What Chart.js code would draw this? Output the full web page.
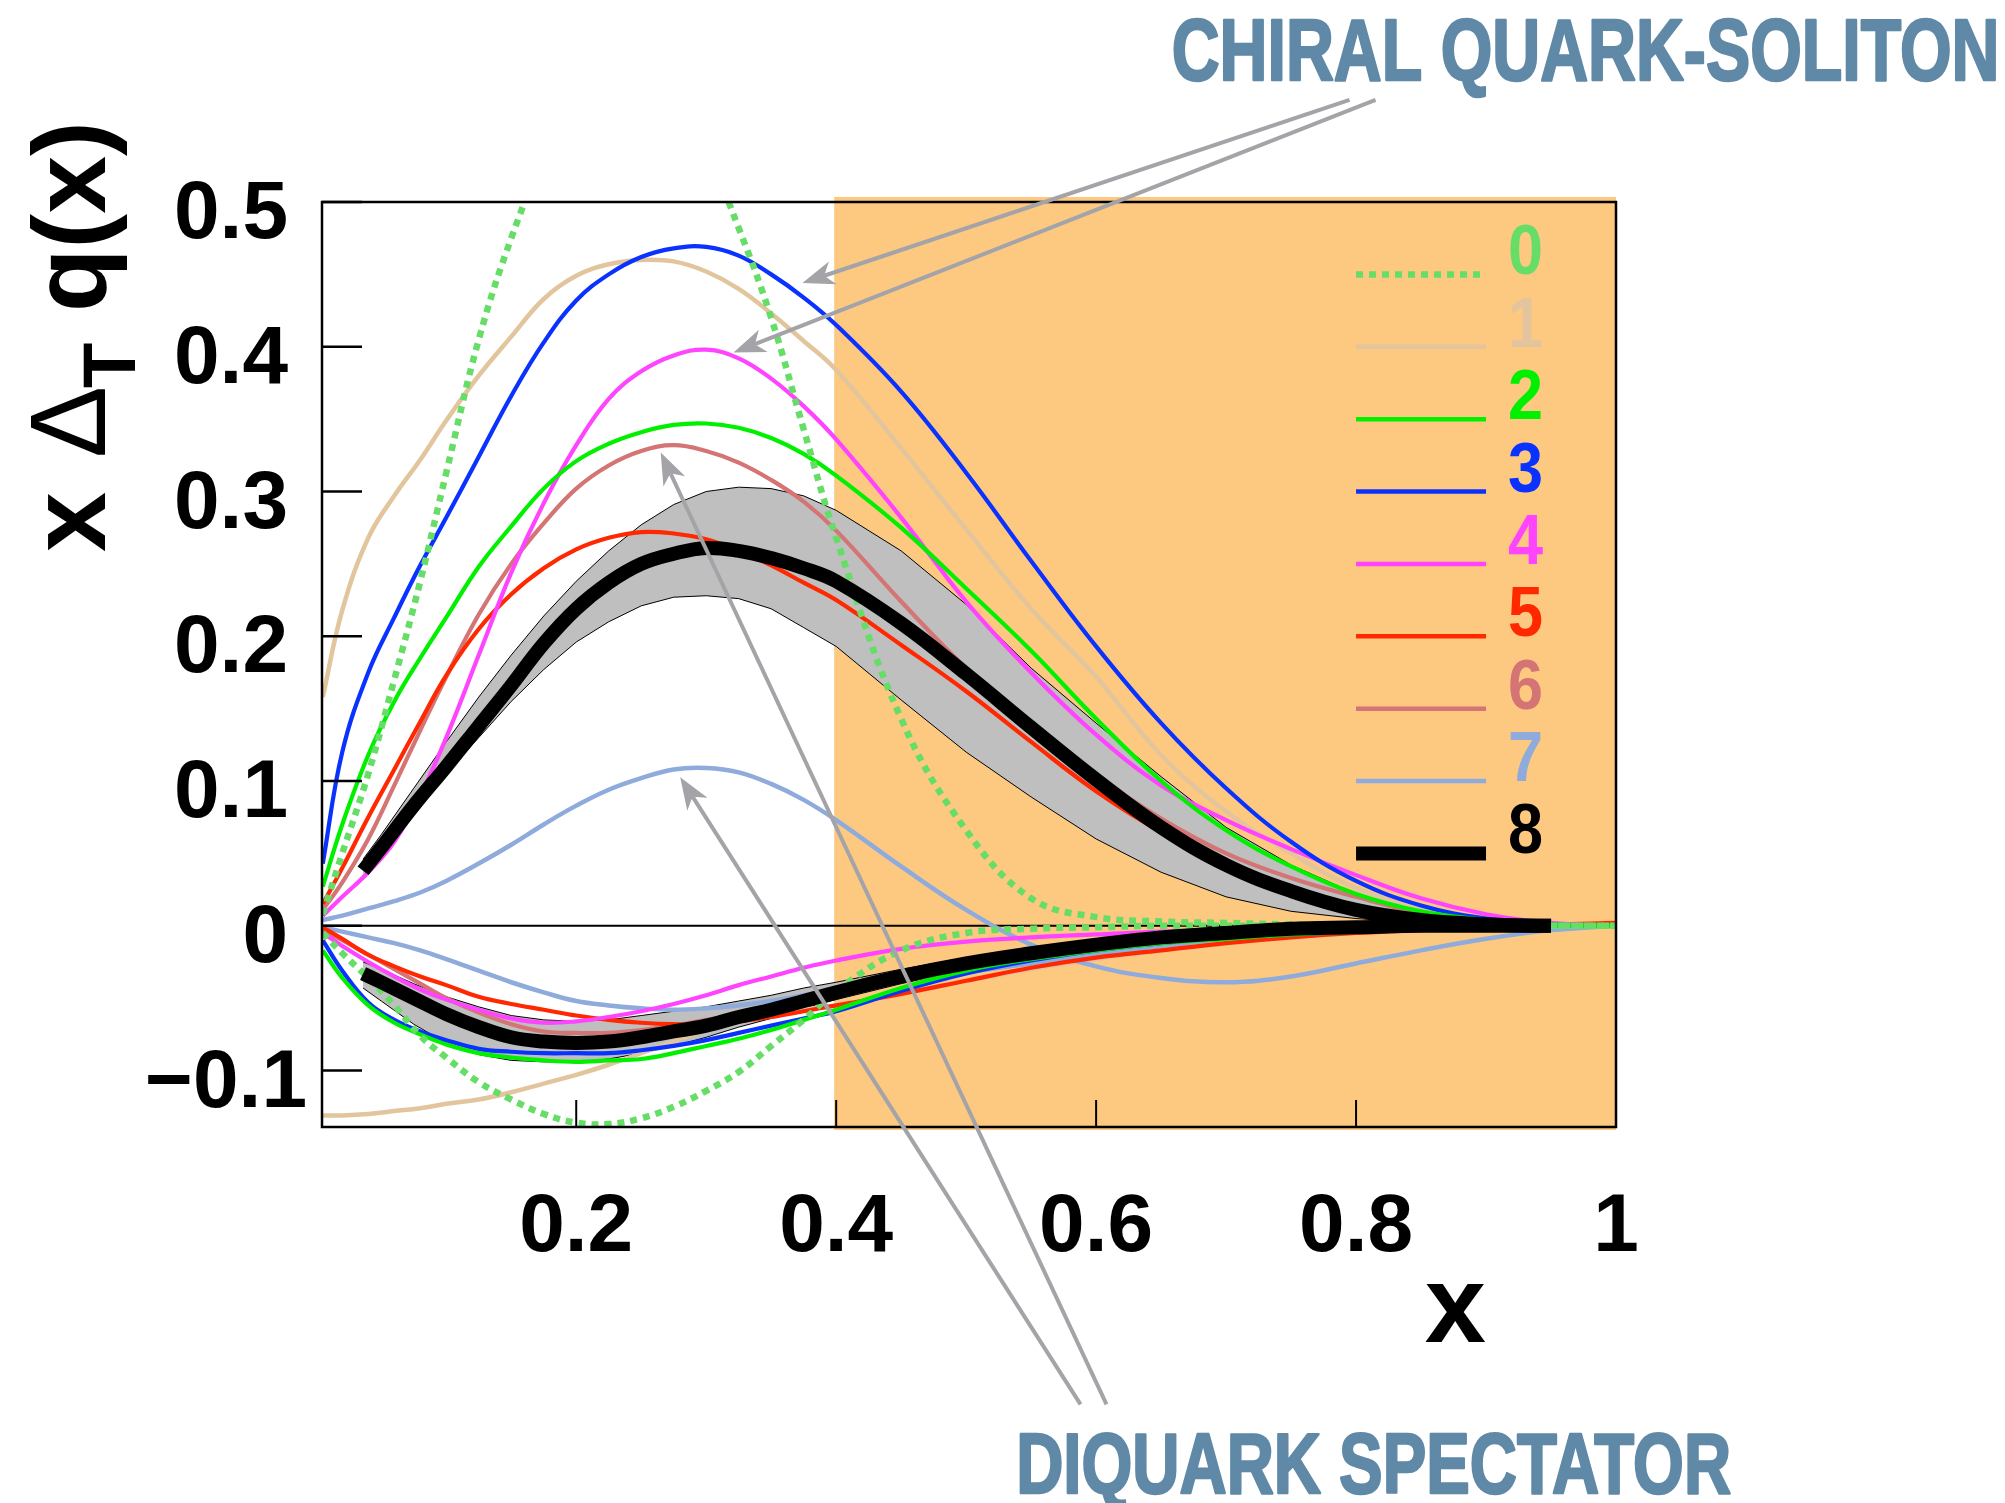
<!DOCTYPE html>
<html lang="en">
<head>
    <meta charset="UTF-8">
    <title>x Δ_T q(x) model comparison</title>
    <script src="https://cdn.jsdelivr.net/npm/chart.js@4.4.1/dist/chart.umd.min.js"></script>
    <style>
        html, body {
            margin: 0;
            padding: 0;
            background: #ffffff;
        }
        #wrap {
            width: 2005px;
            height: 1503px;
        }
    </style>
</head>
<body>
    <div id="wrap"><canvas id="chart" width="2005" height="1503"></canvas></div>

    <script>
        // x grid shared by the model curves
        const X_GRID = [0.005, 0.02, 0.04, 0.06, 0.08, 0.1, 0.125, 0.15, 0.175, 0.2, 0.225, 0.25, 0.275, 0.3,
            0.325, 0.35, 0.375, 0.4, 0.45, 0.5, 0.55, 0.6, 0.65, 0.7, 0.75, 0.8, 0.85, 0.9, 0.95, 1.0];

        // x grid of the fit (curve 8) and its error band
        const X_BAND = [0.036, 0.05, 0.075, 0.1, 0.125, 0.15, 0.175, 0.2, 0.225, 0.25, 0.275, 0.3, 0.325,
            0.35, 0.375, 0.4, 0.45, 0.5, 0.55, 0.6, 0.65, 0.7, 0.75, 0.8, 0.85, 0.9, 0.95];

        // u (positive) and d (negative) branches for each model
        const M0_U = [0.008, 0.05, 0.105, 0.17, 0.238, 0.313, 0.405, 0.475, 0.53, 0.57, 0.59, 0.59, 0.57, 0.535,
            0.482, 0.42, 0.343, 0.268, 0.143, 0.066, 0.019, 0.006, 0.003, 0.002, 0.001, 0.001, 0, 0, 0, 0];
        const M0_D = [-0.005, -0.019, -0.036, -0.055, -0.076, -0.091, -0.108, -0.12, -0.13, -0.136, -0.137, -0.133,
            -0.125, -0.114, -0.101, -0.083, -0.065, -0.045, -0.017, -0.005, -0.002, -0.001, 0, 0, 0, 0, 0, 0, 0, 0];

        const M1_U = [0.158, 0.218, 0.268, 0.297, 0.322, 0.349, 0.38, 0.407, 0.433, 0.449, 0.457, 0.46, 0.459, 0.452,
            0.44, 0.423, 0.404, 0.384, 0.33, 0.274, 0.219, 0.172, 0.118, 0.079, 0.05, 0.026, 0.012, 0.004, 0.001, 0];
        const M1_D = [-0.131, -0.131, -0.13, -0.128, -0.126, -0.123, -0.12, -0.115, -0.109, -0.103, -0.096, -0.088,
            -0.08, -0.072, -0.066, -0.062, -0.058, -0.055, -0.047, -0.038, -0.03, -0.023, -0.017, -0.012, -0.008,
            -0.005, -0.003, -0.001, 0, 0];

        const M2_U = [0.027, 0.07, 0.118, 0.155, 0.185, 0.213, 0.248, 0.276, 0.302, 0.321, 0.333, 0.341, 0.346, 0.347,
            0.344, 0.337, 0.326, 0.311, 0.275, 0.233, 0.19, 0.143, 0.1, 0.066, 0.041, 0.022, 0.01, 0.004, 0.001, 0];
        const M2_D = [-0.017, -0.036, -0.055, -0.067, -0.075, -0.082, -0.088, -0.091, -0.093, -0.094, -0.093, -0.092,
            -0.088, -0.083, -0.078, -0.072, -0.065, -0.058, -0.043, -0.031, -0.023, -0.017, -0.012, -0.009, -0.006,
            -0.004, -0.002, -0.001, 0, 0];

        const M3_U = [0.043, 0.12, 0.175, 0.213, 0.249, 0.282, 0.324, 0.366, 0.403, 0.432, 0.45, 0.462, 0.468, 0.469,
            0.463, 0.45, 0.434, 0.415, 0.369, 0.313, 0.252, 0.193, 0.14, 0.095, 0.058, 0.031, 0.014, 0.005, 0.001, 0];
        const M3_D = [-0.01, -0.031, -0.053, -0.065, -0.073, -0.079, -0.085, -0.087, -0.088, -0.088, -0.088, -0.086,
            -0.083, -0.079, -0.074, -0.069, -0.064, -0.059, -0.045, -0.033, -0.024, -0.017, -0.012, -0.008, -0.006,
            -0.004, -0.002, -0.001, 0, 0];

        const M4_U = [0.007, 0.02, 0.037, 0.058, 0.09, 0.13, 0.187, 0.244, 0.292, 0.332, 0.364, 0.383, 0.394, 0.398,
            0.392, 0.378, 0.359, 0.336, 0.282, 0.224, 0.175, 0.132, 0.097, 0.073, 0.053, 0.035, 0.019, 0.008, 0.002, 0];
        const M4_D = [-0.005, -0.014, -0.025, -0.035, -0.044, -0.051, -0.058, -0.064, -0.067, -0.066, -0.063, -0.059,
            -0.054, -0.048, -0.041, -0.035, -0.029, -0.024, -0.016, -0.011, -0.008, -0.006, -0.004, -0.003, -0.002,
            -0.001, -0.001, 0, 0, 0];

        const M5_U = [0.015, 0.04, 0.075, 0.108, 0.141, 0.173, 0.205, 0.229, 0.247, 0.26, 0.268, 0.272, 0.271, 0.267,
            0.259, 0.249, 0.237, 0.225, 0.194, 0.162, 0.127, 0.093, 0.065, 0.044, 0.027, 0.013, 0.006, 0.002, 0.001, 0.002];
        const M5_D = [-0.001, -0.009, -0.02, -0.028, -0.035, -0.041, -0.049, -0.054, -0.058, -0.062, -0.065, -0.067,
            -0.068, -0.068, -0.066, -0.063, -0.059, -0.055, -0.047, -0.038, -0.029, -0.022, -0.017, -0.012, -0.008,
            -0.005, -0.003, -0.001, 0, 0];

        const M6_U = [0.011, 0.03, 0.06, 0.097, 0.135, 0.172, 0.215, 0.25, 0.278, 0.302, 0.318, 0.328, 0.332, 0.328,
            0.32, 0.308, 0.293, 0.273, 0.224, 0.178, 0.139, 0.104, 0.074, 0.05, 0.033, 0.02, 0.009, 0.003, 0.001, 0];
        const M6_D = [-0.003, -0.01, -0.02, -0.03, -0.04, -0.05, -0.06, -0.068, -0.073, -0.074, -0.074, -0.072,
            -0.069, -0.065, -0.061, -0.056, -0.051, -0.046, -0.037, -0.029, -0.022, -0.016, -0.011, -0.008, -0.005,
            -0.003, -0.002, -0.001, 0, 0];

        const M7_U = [0.004, 0.007, 0.012, 0.017, 0.023, 0.031, 0.043, 0.056, 0.07, 0.083, 0.094, 0.102, 0.108, 0.109,
            0.106, 0.098, 0.087, 0.073, 0.041, 0.011, -0.013, -0.028, -0.036, -0.039, -0.035, -0.026, -0.017, -0.009,
            -0.003, 0];
        const M7_D = [-0.001, -0.004, -0.008, -0.012, -0.017, -0.023, -0.031, -0.039, -0.046, -0.052, -0.055, -0.057,
            -0.058, -0.057, -0.055, -0.052, -0.048, -0.043, -0.037, -0.032, -0.026, -0.02, -0.014, -0.009, -0.005,
            -0.003, -0.001, 0, 0, 0];

        // fit (curve 8) with its error band, on X_BAND
        const M8_U = [0.038, 0.054, 0.083, 0.11, 0.138, 0.166, 0.195, 0.219, 0.237, 0.25, 0.257, 0.261, 0.259, 0.254,
            0.247, 0.238, 0.209, 0.174, 0.137, 0.101, 0.068, 0.042, 0.024, 0.011, 0.004, 0.001, 0];
        const M8_D = [-0.033, -0.039, -0.05, -0.061, -0.07, -0.077, -0.08, -0.081, -0.08, -0.077, -0.073, -0.069,
            -0.063, -0.058, -0.052, -0.046, -0.035, -0.026, -0.019, -0.013, -0.008, -0.005, -0.002, -0.001, 0, 0, 0];
        const BAND_U_HI = [0.046, 0.063, 0.095, 0.127, 0.158, 0.187, 0.214, 0.238, 0.259, 0.277, 0.291, 0.3, 0.303,
            0.302, 0.297, 0.287, 0.259, 0.222, 0.178, 0.14, 0.103, 0.068, 0.042, 0.022, 0.009, 0.003, 0.001];
        const BAND_U_LO = [0.034, 0.05, 0.079, 0.105, 0.13, 0.155, 0.177, 0.196, 0.21, 0.221, 0.227, 0.228, 0.226,
            0.219, 0.206, 0.193, 0.156, 0.12, 0.089, 0.06, 0.037, 0.02, 0.01, 0.005, 0.002, 0.001, 0];
        const BAND_D_HI = [-0.025, -0.03, -0.04, -0.049, -0.056, -0.062, -0.065, -0.066, -0.065, -0.062, -0.059,
            -0.056, -0.052, -0.048, -0.043, -0.039, -0.03, -0.022, -0.016, -0.011, -0.007, -0.004, -0.002, -0.001, 0, 0, 0];
        const BAND_D_LO = [-0.043, -0.052, -0.068, -0.081, -0.089, -0.093, -0.094, -0.094, -0.092, -0.088, -0.083,
            -0.077, -0.07, -0.064, -0.057, -0.051, -0.04, -0.03, -0.022, -0.015, -0.01, -0.006, -0.003, -0.001, 0, 0, 0];

        const MODEL_LABELS = ['0', '1', '2', '3', '4', '5', '6', '7', '8'];
        const MODEL_COLORS = ['#66dd66', '#e2c59c', '#00f000', '#0a32ff', '#ff44ff', '#ff2800', '#d47474', '#8eabdc', '#000000'];

        const X_TICKS = [0.2, 0.4, 0.6, 0.8, 1.0];
        const X_TICK_LABELS = ['0.2', '0.4', '0.6', '0.8', '1'];
        const Y_TICKS = [0.5, 0.4, 0.3, 0.2, 0.1, 0, -0.1];
        const Y_TICK_LABELS = ['0.5', '0.4', '0.3', '0.2', '0.1', '0', '\u22120.1'];

        // region x > 0.4 is shaded
        const SHADE_FROM = 0.4;

        // annotation arrows: [x0, y0, x1 (tip), y1 (tip)] in data units
        const CHIRAL_ARROWS = [[0.795, 0.5705, 0.374, 0.444], [0.815, 0.5705, 0.321, 0.396]];
        const DIQUARK_ARROWS = [[0.588, -0.3306, 0.28, 0.1026], [0.608, -0.3306, 0.265, 0.327]];

        const FONT = '"Liberation Sans", Arial, Helvetica, sans-serif';
        const BAND_GREY = '#bfbfbf';
        const SHADE_COLOR = '#fdc981';
        const ARROW_GREY = '#a4a4a8';
        const NOTE_BLUE = '#5f89a7';

        function pts(xs, ys) {
            return xs.map((x, i) => ({ x: x, y: ys[i] }));
        }

        function curve(data, color, width, order, extra) {
            return Object.assign({
                data: data,
                borderColor: color,
                backgroundColor: color,
                borderWidth: width,
                pointRadius: 0,
                fill: false,
                tension: 0.4,
                order: order
            }, extra || {});
        }

        const bandEdge = { tension: 0 };

        const datasets = [
            // error band of the fit, upper and lower branch
            curve(pts(X_BAND, BAND_U_HI), '#000', 1, 100, Object.assign({ fill: '+1', backgroundColor: BAND_GREY }, bandEdge)),
            curve(pts(X_BAND, BAND_U_LO), '#000', 1, 99, bandEdge),
            curve(pts(X_BAND, BAND_D_HI), '#000', 1, 100, Object.assign({ fill: '+1', backgroundColor: BAND_GREY }, bandEdge)),
            curve(pts(X_BAND, BAND_D_LO), '#000', 1, 99, bandEdge),

            curve(pts(X_GRID, M1_U), MODEL_COLORS[1], 4.5, 90),
            curve(pts(X_GRID, M1_D), MODEL_COLORS[1], 4.5, 90),
            curve(pts(X_GRID, M7_U), MODEL_COLORS[7], 4.5, 80),
            curve(pts(X_GRID, M7_D), MODEL_COLORS[7], 4.5, 80),
            curve(pts(X_GRID, M6_U), MODEL_COLORS[6], 4.2, 70),
            curve(pts(X_GRID, M6_D), MODEL_COLORS[6], 4.2, 70),
            curve(pts(X_GRID, M5_U), MODEL_COLORS[5], 4.2, 60),
            curve(pts(X_GRID, M5_D), MODEL_COLORS[5], 4.2, 60),
            curve(pts(X_GRID, M4_U), MODEL_COLORS[4], 4.2, 50),
            curve(pts(X_GRID, M4_D), MODEL_COLORS[4], 4.2, 50),
            curve(pts(X_GRID, M3_U), MODEL_COLORS[3], 4.2, 40),
            curve(pts(X_GRID, M3_D), MODEL_COLORS[3], 4.2, 40),
            curve(pts(X_GRID, M2_U), MODEL_COLORS[2], 4.2, 30),
            curve(pts(X_GRID, M2_D), MODEL_COLORS[2], 4.2, 30),
            curve(pts(X_GRID, M0_U), MODEL_COLORS[0], 6.5, 20, { borderDash: [7, 6] }),
            curve(pts(X_GRID, M0_D), MODEL_COLORS[0], 6.5, 20, { borderDash: [7, 6] }),

            curve(pts(X_BAND, M8_U), MODEL_COLORS[8], 14, 10),
            curve(pts(X_BAND, M8_D), MODEL_COLORS[8], 14, 10)
        ];

        // text with its ink squeezed horizontally to a given width
        function fitText(ctx, str, left, baseline, font, color, inkWidth) {
            ctx.save();
            ctx.font = font;
            ctx.fillStyle = color;
            ctx.strokeStyle = color;
            ctx.lineWidth = 2.5;
            ctx.lineJoin = 'round';
            ctx.textAlign = 'left';
            ctx.textBaseline = 'alphabetic';
            const m = ctx.measureText(str);
            const ink = m.actualBoundingBoxLeft + m.actualBoundingBoxRight;
            const s = inkWidth / ink;
            ctx.translate(left, baseline);
            ctx.scale(s, 1);
            ctx.fillText(str, m.actualBoundingBoxLeft, 0);
            ctx.strokeText(str, m.actualBoundingBoxLeft, 0);
            ctx.restore();
        }

        function arrow(ctx, xs, ys, a) {
            const x0 = xs.getPixelForValue(a[0]), y0 = ys.getPixelForValue(a[1]);
            const x1 = xs.getPixelForValue(a[2]), y1 = ys.getPixelForValue(a[3]);
            const ang = Math.atan2(y1 - y0, x1 - x0);
            const L = 32, W = 12, notch = 9;
            ctx.save();
            ctx.strokeStyle = ARROW_GREY;
            ctx.fillStyle = ARROW_GREY;
            ctx.lineWidth = 4;
            ctx.beginPath();
            ctx.moveTo(x0, y0);
            ctx.lineTo(x1 - Math.cos(ang) * (L - notch), y1 - Math.sin(ang) * (L - notch));
            ctx.stroke();
            ctx.translate(x1, y1);
            ctx.rotate(ang);
            ctx.beginPath();
            ctx.moveTo(0, 0);
            ctx.lineTo(-L, -W);
            ctx.lineTo(-L + notch, 0);
            ctx.lineTo(-L, W);
            ctx.closePath();
            ctx.fill();
            ctx.restore();
        }

        const decor = {
            id: 'decor',
            beforeDatasetsDraw(chart) {
                const { ctx, chartArea: a, scales: { x, y } } = chart;
                ctx.save();
                // shaded region
                const sx = x.getPixelForValue(SHADE_FROM) - 2;
                ctx.fillStyle = SHADE_COLOR;
                ctx.fillRect(sx, a.top - 5, a.right - sx, a.bottom - a.top + 8);
                // zero line
                const y0 = y.getPixelForValue(0);
                ctx.strokeStyle = '#000';
                ctx.lineWidth = 2;
                ctx.beginPath();
                ctx.moveTo(a.left, y0);
                ctx.lineTo(a.right, y0);
                ctx.stroke();
                ctx.restore();
            },
            afterDatasetsDraw(chart) {
                const { ctx, chartArea: a, scales: { x, y } } = chart;
                ctx.save();

                // frame and inward ticks
                ctx.strokeStyle = '#000';
                ctx.lineWidth = 2.5;
                ctx.strokeRect(a.left, a.top, a.right - a.left, a.bottom - a.top);
                Y_TICKS.forEach(v => {
                    const py = y.getPixelForValue(v);
                    ctx.beginPath();
                    ctx.moveTo(a.left, py);
                    ctx.lineTo(a.left + 40, py);
                    ctx.stroke();
                });
                ctx.lineWidth = 2;
                X_TICKS.forEach(v => {
                    const px = x.getPixelForValue(v);
                    ctx.beginPath();
                    ctx.moveTo(px, a.bottom);
                    ctx.lineTo(px, a.bottom - 27);
                    ctx.stroke();
                });

                // tick labels
                ctx.fillStyle = '#000';
                ctx.font = 'bold 82px ' + FONT;
                ctx.textBaseline = 'alphabetic';
                ctx.textAlign = 'center';
                X_TICKS.forEach((v, i) => {
                    ctx.fillText(X_TICK_LABELS[i], x.getPixelForValue(v), a.bottom + 124);
                });
                ctx.textAlign = 'right';
                Y_TICKS.forEach((v, i) => {
                    const right = v < 0 ? a.left - 15 : a.left - 34;
                    ctx.fillText(Y_TICK_LABELS[i], right, y.getPixelForValue(v) + 36);
                });

                // axis titles
                ctx.font = 'bold 110px ' + FONT;
                ctx.textAlign = 'right';
                ctx.fillText('x', 1486, 1342);

                ctx.save();
                ctx.translate(105, 552);
                ctx.rotate(-Math.PI / 2);
                ctx.textAlign = 'left';
                ctx.font = 'bold 108px ' + FONT;
                ctx.fillText('x', 0, 0);
                ctx.font = '108px ' + FONT;
                ctx.fillText('\u0394', 94, 0);
                ctx.font = 'bold 74px ' + FONT;
                ctx.fillText('T', 164, 30);
                ctx.font = 'bold 104px ' + FONT;
                ctx.fillText('q(x)', 240, 0);
                ctx.restore();

                // legend
                MODEL_LABELS.forEach((lab, i) => {
                    const row = y.getPixelForValue(0.45 - 0.05 * i);
                    const lx0 = x.getPixelForValue(0.8);
                    const lx1 = x.getPixelForValue(0.9);
                    ctx.save();
                    ctx.strokeStyle = MODEL_COLORS[i];
                    if (i === 0) {
                        ctx.lineWidth = 6.5;
                        ctx.setLineDash([7, 6]);
                    } else {
                        ctx.lineWidth = i === 8 ? 14 : 4.5;
                    }
                    ctx.beginPath();
                    ctx.moveTo(lx0, row);
                    ctx.lineTo(lx1, row);
                    ctx.stroke();
                    ctx.restore();

                    ctx.save();
                    ctx.fillStyle = MODEL_COLORS[i];
                    ctx.font = 'bold 70px ' + FONT;
                    ctx.textAlign = 'left';
                    ctx.translate(x.getPixelForValue(0.917), row);
                    ctx.scale(0.9, 1);
                    ctx.fillText(lab, 0, 0);
                    ctx.restore();
                });

                ctx.restore();
            },
            afterDraw(chart) {
                const { ctx, scales: { x, y } } = chart;
                CHIRAL_ARROWS.forEach(a => arrow(ctx, x, y, a));
                DIQUARK_ARROWS.forEach(a => arrow(ctx, x, y, a));
                fitText(ctx, 'CHIRAL QUARK-SOLITON', 1174, 80, 'bold 87px ' + FONT, NOTE_BLUE, 821);
                fitText(ctx, 'DIQUARK SPECTATOR', 1020, 1493, 'bold 85px ' + FONT, NOTE_BLUE, 710);
            }
        };

        new Chart(document.getElementById('chart').getContext('2d'), {
            type: 'line',
            data: { datasets: datasets },
            options: {
                responsive: false,
                devicePixelRatio: 1,
                animation: false,
                events: [],
                layout: {
                    padding: { left: 322, top: 202, right: 389, bottom: 376 }
                },
                plugins: {
                    legend: { display: false },
                    tooltip: { enabled: false }
                },
                scales: {
                    x: { type: 'linear', min: 0.0044, max: 1.0, display: false },
                    y: { type: 'linear', min: -0.139, max: 0.5, display: false }
                }
            },
            plugins: [decor]
        });
    </script>
</body>
</html>
